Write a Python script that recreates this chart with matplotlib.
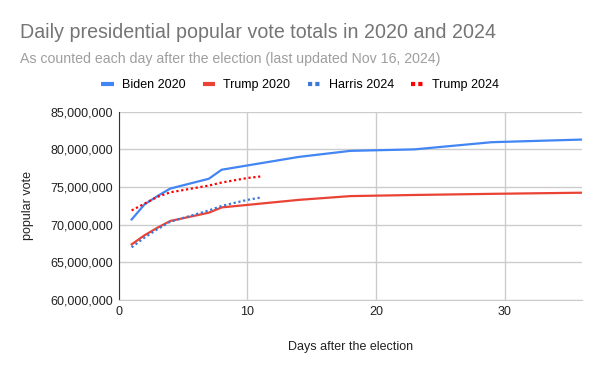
import matplotlib
matplotlib.use("Agg")
import matplotlib.pyplot as plt
from matplotlib.lines import Line2D
from matplotlib.ticker import FuncFormatter, MultipleLocator

plt.rcParams['font.family'] = ['Liberation Sans', 'DejaVu Sans']

# 2020 counts (days after election, votes in millions)
days_2020 = [1, 2, 3, 4, 7, 8, 14, 18, 23, 29, 36]
biden_2020 = [70.7, 72.7, 73.8, 74.8, 76.1, 77.3, 79.0, 79.8, 80.0, 80.95, 81.3]
trump_2020 = [67.4, 68.6, 69.6, 70.5, 71.6, 72.3, 73.3, 73.8, 73.95, 74.1, 74.25]

# 2024 counts
days_2024 = [1, 2, 3, 4, 5, 6, 7, 8, 9, 10, 11]
harris_2024 = [67.0, 68.3, 69.4, 70.4, 70.9, 71.4, 71.9, 72.5, 72.9, 73.3, 73.6]
trump_2024 = [71.9, 72.8, 73.7, 74.3, 74.6, 74.9, 75.2, 75.6, 75.9, 76.2, 76.4]

labels = ['Biden 2020', 'Trump 2020', 'Harris 2024', 'Trump 2024']
colors = ['#4285F4', '#EA4335', '#3C78D8', '#FF0000']
dotted = (0, (1, 1.2))

fig = plt.figure(figsize=(6, 3.71), dpi=100)
ax = fig.add_axes([0.198, 0.191, 0.7715, 0.508])

m = 1e6
ax.plot(days_2020, [v * m for v in biden_2020], color=colors[0], lw=1.6)
ax.plot(days_2020, [v * m for v in trump_2020], color=colors[1], lw=1.6)
ax.plot(days_2024, [v * m for v in harris_2024], color=colors[2], lw=1.6, linestyle=dotted)
ax.plot(days_2024, [v * m for v in trump_2024], color=colors[3], lw=1.6, linestyle=dotted)

ax.set_xlim(0, 36)
ax.set_ylim(60e6, 85e6)
ax.xaxis.set_major_locator(MultipleLocator(10))
ax.yaxis.set_major_locator(MultipleLocator(5e6))
ax.yaxis.set_major_formatter(FuncFormatter(lambda v, p: f"{int(v):,}"))
ax.grid(True, color='#cccccc', lw=1)
ax.set_axisbelow(True)
for s in ['top', 'right']:
    ax.spines[s].set_visible(False)
ax.spines['left'].set_color('#333333')
ax.spines['bottom'].set_color('#cccccc')
ax.tick_params(length=0, labelsize=9, colors='#222222', pad=4)
ax.set_ylabel('popular vote', fontsize=9, color='#222222', labelpad=12)
ax.set_xlabel('Days after the election', fontsize=9, color='#222222', labelpad=17)

fig.text(0.033, 0.912, 'Daily presidential popular vote totals in 2020 and 2024',
         fontsize=14.1, color='#757575', va='center')
fig.text(0.033, 0.84, 'As counted each day after the election (last updated Nov 16, 2024)',
         fontsize=10.2, color='#9e9e9e', va='center')

handles = [
    Line2D([], [], color=colors[0], lw=3, solid_capstyle='butt'),
    Line2D([], [], color=colors[1], lw=3, solid_capstyle='butt'),
    Line2D([], [], color=colors[2], lw=3, linestyle=(0, (1, 0.75)), dash_capstyle='butt'),
    Line2D([], [], color=colors[3], lw=3, linestyle=(0, (1, 0.75)), dash_capstyle='butt'),
]
fig.legend(handles, labels, loc='center', bbox_to_anchor=(0.5, 0.771), ncol=4, frameon=False,
           fontsize=9, handlelength=1.0, handletextpad=0.65, columnspacing=1.4)

fig.savefig('out.png', dpi=100)
